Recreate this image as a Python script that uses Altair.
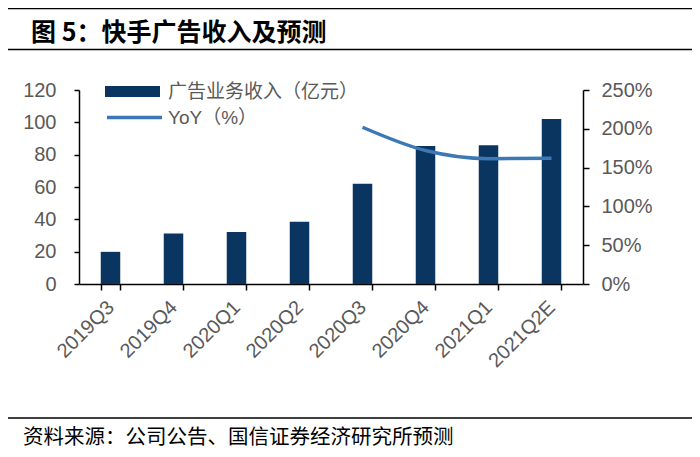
import altair as alt
import pandas as pd

quarters = ["2019Q3", "2019Q4", "2020Q1", "2020Q2", "2020Q3", "2020Q4", "2021Q1", "2021Q2E"]
revenue = [19.9, 31.3, 32.1, 38.5, 62.0, 85.4, 85.8, 102.0]
yoy = [None, None, None, None, 202.0, 172.0, 161.5, 162.0]

bar_name = "广告业务收入（亿元）"
line_name = "YoY（%）"
title_text = "图 5：快手广告收入及预测"
source_text = "资料来源：公司公告、国信证券经济研究所预测"

BAR_COLOR = "#0B3561"
LINE_COLOR = "#3C78B5"
GREY = "#595959"
LATIN = "Liberation Sans, Arial, Noto Sans CJK SC"
CJK = "Noto Sans CJK SC"

df = pd.DataFrame({"q": quarters, "rev": revenue, "yoy": yoy})
df["s1"] = bar_name
df["s2"] = line_name

x_enc = alt.X(
    "q:N",
    sort=quarters,
    title=None,
    scale=alt.Scale(paddingInner=0.69, paddingOuter=0.345),
    axis=alt.Axis(
        labelAngle=-45,
        labelAlign="right",
        labelBaseline="middle",
        labelPadding=14,
        labelFontSize=20,
        labelFont=LATIN,
        labelColor=GREY,
        tickBand="extent",
        tickSize=6,
        tickColor="black",
        domainColor="black",
        domainWidth=1.5,
        tickWidth=1.5,
    ),
)

bars = alt.Chart(df).mark_bar(size=19.5).encode(
    x=x_enc,
    y=alt.Y(
        "rev:Q",
        title=None,
        scale=alt.Scale(domain=[0, 120], nice=False),
        axis=alt.Axis(
            orient="left",
            values=[0, 20, 40, 60, 80, 100, 120],
            labelFontSize=20,
            labelFont=LATIN,
            labelColor=GREY,
            labelPadding=18,
            tickSize=5,
            tickColor="black",
            tickWidth=1.5,
            domainColor="black",
            domainWidth=1.5,
            grid=False,
        ),
    ),
    color=alt.Color(
        "s1:N",
        scale=alt.Scale(domain=[bar_name], range=[BAR_COLOR]),
        legend=alt.Legend(
            title=None,
            orient="none",
            legendX=26,
            legendY=-26,
            symbolType="M-1,-0.2H1V0.2H-1Z",
            symbolSize=3025,
            symbolStrokeWidth=0,
            labelFontSize=19,
            labelFont=LATIN,
            labelColor=GREY,
            labelOffset=8,
            labelLimit=0,
        ),
    ),
)

line = alt.Chart(df).transform_filter("isValid(datum.yoy)").mark_line(
    strokeWidth=3.5, interpolate="monotone"
).encode(
    x=alt.X("q:N", sort=quarters),
    y=alt.Y(
        "yoy:Q",
        title=None,
        scale=alt.Scale(domain=[0, 250], nice=False),
        axis=alt.Axis(
            orient="right",
            values=[0, 50, 100, 150, 200, 250],
            labelExpr="datum.value + '%'",
            labelFontSize=20,
            labelFont=LATIN,
            labelColor=GREY,
            labelPadding=12,
            tickSize=6,
            tickColor="black",
            tickWidth=1.5,
            domainColor="black",
            domainWidth=1.5,
            grid=False,
        ),
    ),
    stroke=alt.Stroke(
        "s2:N",
        scale=alt.Scale(domain=[line_name], range=[LINE_COLOR]),
        legend=alt.Legend(
            title=None,
            orient="none",
            legendX=26,
            legendY=-2,
            symbolType="stroke",
            symbolSize=3025,
            symbolStrokeWidth=3.5,
            labelFontSize=19,
            labelFont=LATIN,
            labelColor=GREY,
            labelOffset=4,
            labelLimit=0,
        ),
    ),
)

main = alt.layer(bars, line).resolve_scale(y="independent")

deco_df = pd.DataFrame({"k": [0]})
title_mark = alt.Chart(pd.DataFrame({"t": [title_text]})).mark_text(
    align="left", baseline="middle", font=CJK, fontSize=25, fontWeight="bold", color="black"
).encode(text="t:N", x=alt.value(-48), y=alt.value(-57))

source_mark = alt.Chart(pd.DataFrame({"t": [source_text]})).mark_text(
    align="left", baseline="middle", font=CJK, fontSize=20.5, color="black"
).encode(text="t:N", x=alt.value(-56), y=alt.value(348))

rule_top = alt.Chart(deco_df).mark_rule(color="black", strokeWidth=1.5).encode(
    x=alt.value(-71), x2=alt.value(613), y=alt.value(-81.5)
)
rule_mid = alt.Chart(deco_df).mark_rule(color="black", strokeWidth=1.5).encode(
    x=alt.value(-71), x2=alt.value(613), y=alt.value(-40.5)
)
rule_bot = alt.Chart(deco_df).mark_rule(color="black", strokeWidth=1.5).encode(
    x=alt.value(-71), x2=alt.value(613), y=alt.value(328)
)

chart = alt.layer(main, title_mark, source_mark, rule_top, rule_mid, rule_bot).properties(
    width=504,
    height=194,
    autosize=alt.AutoSizeParams(type="none"),
    padding={"left": 71, "top": 82, "right": 109, "bottom": 165},
    background="white",
).configure_view(stroke=None)

chart.save("out.html", embed_options={"renderer": "svg", "actions": False})
